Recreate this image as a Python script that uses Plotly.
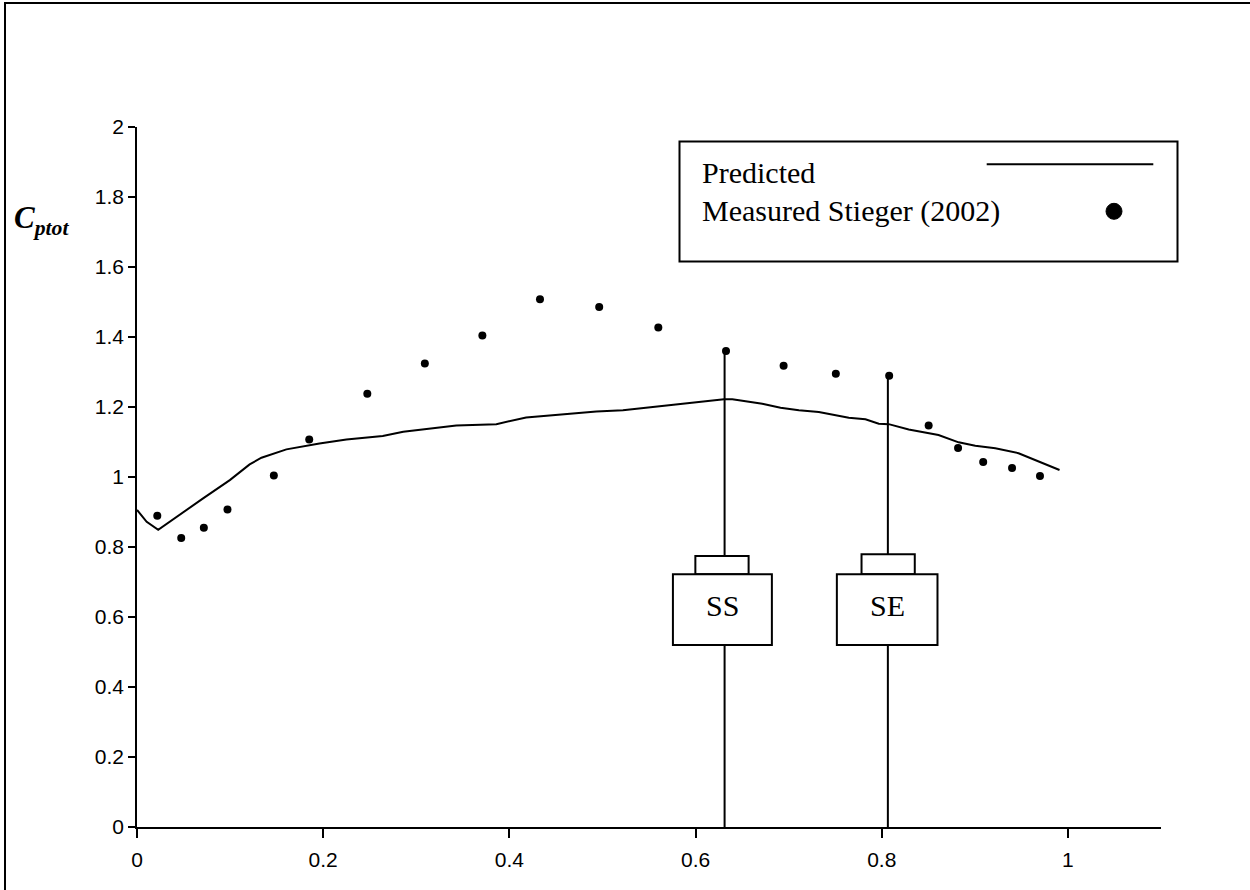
import plotly.graph_objects as go

# ---------------- data ----------------
pred_x = [0.0, 0.0104, 0.0228, 0.046, 0.071, 0.0997, 0.121, 0.1337, 0.1605, 0.196,
          0.225, 0.264, 0.286, 0.343, 0.386, 0.418, 0.458, 0.4935, 0.522, 0.539,
          0.561, 0.5716, 0.618, 0.6306, 0.6395, 0.6717, 0.6913, 0.711, 0.7324,
          0.7646, 0.7825, 0.7968, 0.8075, 0.829, 0.861, 0.8826, 0.9005, 0.922,
          0.947, 0.9648, 0.991]
pred_y = [0.906, 0.872, 0.849, 0.893, 0.939, 0.991, 1.036, 1.055, 1.079, 1.096,
          1.107, 1.117, 1.129, 1.147, 1.151, 1.170, 1.180, 1.187, 1.191, 1.196,
          1.201, 1.206, 1.218, 1.222, 1.222, 1.209, 1.198, 1.191, 1.186,
          1.169, 1.165, 1.152, 1.151, 1.136, 1.120, 1.099, 1.089, 1.082,
          1.068, 1.049, 1.020]

meas_x = [0.0218, 0.0475, 0.0718, 0.0972, 0.147, 0.185, 0.2474, 0.3092, 0.371,
          0.4329, 0.4965, 0.560, 0.6327, 0.6946, 0.7507, 0.808, 0.8504, 0.882,
          0.909, 0.940, 0.970]
meas_y = [0.889, 0.826, 0.855, 0.907, 1.004, 1.107, 1.238, 1.324, 1.404,
          1.508, 1.486, 1.427, 1.360, 1.318, 1.295, 1.289, 1.147, 1.083,
          1.043, 1.026, 1.003]

x_ticks = [0, 0.2, 0.4, 0.6, 0.8, 1.0]
x_tick_labels = ["0", "0.2", "0.4", "0.6", "0.8", "1"]
y_ticks = [0, 0.2, 0.4, 0.6, 0.8, 1.0, 1.2, 1.4, 1.6, 1.8, 2.0]
y_tick_labels = ["0", "0.2", "0.4", "0.6", "0.8", "1", "1.2", "1.4", "1.6", "1.8", "2"]

series_names = ["Predicted", "Measured Stieger (2002)"]
station_labels = ["SS", "SE"]
station_x = [0.6312, 0.8066]
station_top = [1.360, 1.289]

# ---------------- layout geometry ----------------
W, H = 1250, 890
L, R, T, B = 137, 1161, 127, 827


def px(xp):
    return (xp - L) / (R - L)


def py(yp):
    return (B - yp) / (B - T)


SERIF = "Liberation Serif, Times New Roman, serif"
SANS = "Liberation Sans Narrow, Arial Narrow, Liberation Sans, Arial, sans-serif"

fig = go.Figure()
fig.add_trace(go.Scatter(x=pred_x, y=pred_y, mode="lines", name=series_names[0],
                         line=dict(color="black", width=2), showlegend=False))
fig.add_trace(go.Scatter(x=meas_x, y=meas_y, mode="markers", name=series_names[1],
                         marker=dict(color="black", size=8, symbol="circle"),
                         showlegend=False))

shapes = []
# station lines and boxes
box_big = [(0.5757, 0.6820), (0.7518, 0.8599)]
box_small = [(0.5998, 0.6570), (0.7783, 0.8355)]
small_top = [0.774, 0.779]
for i, sx in enumerate(station_x):
    shapes.append(dict(type="line", xref="x", yref="y", x0=sx, x1=sx, y0=0,
                       y1=station_top[i], line=dict(color="black", width=2)))
    shapes.append(dict(type="rect", xref="x", yref="y", x0=box_small[i][0],
                       x1=box_small[i][1], y0=0.722, y1=small_top[i],
                       line=dict(color="black", width=2), fillcolor="white"))
    shapes.append(dict(type="rect", xref="x", yref="y", x0=box_big[i][0],
                       x1=box_big[i][1], y0=0.52, y1=0.722,
                       line=dict(color="black", width=2), fillcolor="white"))

# legend box
shapes.append(dict(type="rect", xref="paper", yref="paper", x0=px(679.5), x1=px(1177.5),
                   y0=py(261.5), y1=py(141.5), line=dict(color="black", width=2),
                   fillcolor="white", layer="above"))
shapes.append(dict(type="line", xref="paper", yref="paper", x0=px(986.7), x1=px(1153.3),
                   y0=py(164.3), y1=py(164.3), line=dict(color="black", width=2)))
shapes.append(dict(type="circle", xref="paper", yref="paper", xsizemode="pixel",
                   ysizemode="pixel", xanchor=px(1114), yanchor=py(211.3),
                   x0=-8, x1=8, y0=-8, y1=8, fillcolor="black",
                   line=dict(color="black", width=1)))

# page frame (top and left)
shapes.append(dict(type="line", xref="paper", yref="paper", x0=px(4), x1=px(1250),
                   y0=py(3), y1=py(3), line=dict(color="black", width=2)))
shapes.append(dict(type="line", xref="paper", yref="paper", x0=px(5), x1=px(5),
                   y0=py(2), y1=py(890), line=dict(color="black", width=2)))

annotations = []
for i, sx in enumerate(station_x):
    annotations.append(dict(x=(box_big[i][0] + box_big[i][1]) / 2, y=0.632,
                            xref="x", yref="y", text=station_labels[i], showarrow=False,
                            font=dict(family=SERIF, size=30, color="black"),
                            xanchor="center", yanchor="middle"))
annotations.append(dict(x=px(700), y=py(172), xref="paper", yref="paper",
                        text=series_names[0], showarrow=False, xanchor="left",
                        yanchor="middle", font=dict(family=SERIF, size=30, color="black")))
annotations.append(dict(x=px(700), y=py(211), xref="paper", yref="paper",
                        text=series_names[1], showarrow=False, xanchor="left",
                        yanchor="middle", font=dict(family=SERIF, size=30, color="black")))
annotations.append(dict(x=px(12), y=py(220), xref="paper", yref="paper",
                        text="<b><i>C</i></b><sub><b><i>ptot</i></b></sub>",
                        showarrow=False, xanchor="left", yanchor="middle",
                        font=dict(family=SERIF, size=31, color="black")))

fig.update_layout(
    width=W, height=H,
    margin=dict(l=L, r=W - R, t=T, b=H - B, pad=0),
    paper_bgcolor="white", plot_bgcolor="white",
    shapes=shapes, annotations=annotations, showlegend=False,
    xaxis=dict(range=[0, 1.1], tickvals=x_ticks, ticktext=x_tick_labels,
               showgrid=False, zeroline=False, showline=True, linecolor="black",
               linewidth=2, ticks="outside", ticklen=9, tickwidth=1.5,
               ticklabelstandoff=4,
               tickcolor="black", tickfont=dict(family=SANS, size=21, color="black")),
    yaxis=dict(range=[0, 2], tickvals=y_ticks, ticktext=y_tick_labels,
               showgrid=False, zeroline=False, showline=True, linecolor="black",
               linewidth=1.5, ticks="outside", ticklen=7, tickwidth=1.5,
               tickcolor="black", tickfont=dict(family=SANS, size=21, color="black")),
)

fig.write_html("out.html", config={"displayModeBar": False},
               post_script="document.body.style.margin='0';document.body.style.overflow='hidden';")
